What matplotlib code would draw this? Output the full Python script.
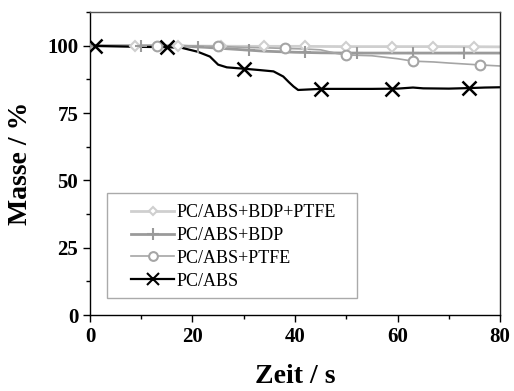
import numpy as np
import matplotlib.pyplot as plt
from matplotlib.ticker import MultipleLocator
from matplotlib.patches import Rectangle

plt.rcParams['font.family'] = ['Liberation Serif', 'DejaVu Serif']

# PC/ABS+BDP+PTFE (diamond)
t_bdp_ptfe = [0, 10, 20, 30, 40, 50, 60, 70, 80]
m_bdp_ptfe = [100, 100, 99.9, 99.8, 99.8, 99.7, 99.7, 99.7, 99.6]
mk_bdp_ptfe = [8.8, 17.2, 25.5, 34, 42, 50, 59, 67, 75]

# PC/ABS+BDP (plus)
t_bdp = [0, 10, 18, 22, 26, 30, 34, 40, 45, 50, 60, 70, 80]
m_bdp = [100, 100, 99.9, 99.5, 99.0, 98.5, 98.0, 97.6, 97.4, 97.3, 97.3, 97.3, 97.3]
mk_bdp = [0, 10, 21, 31, 42, 52, 63, 73]

# PC/ABS+PTFE (circle)
t_ptfe = [0, 10, 20, 25, 30, 35, 38, 42, 45, 48, 50, 55, 60, 63, 67, 70, 76, 80]
m_ptfe = [100, 100, 99.9, 99.8, 99.4, 99.2, 99.0, 98.8, 98.5, 97.2, 96.6, 96.3, 95.2, 94.3, 94.0, 93.6, 92.9, 92.5]
mk_ptfe = [13, 25, 38, 50, 63, 76]

# PC/ABS (x)
t_abs = [0, 5, 10, 15, 18, 19.5, 21, 23.4, 25, 26.7, 28, 30.6, 33, 35.8, 37.7, 38.8, 39.7, 40.6,
         45, 50, 55, 60, 63, 65, 70, 74, 77, 80]
m_abs = [100, 99.8, 99.6, 99.5, 99.2, 98.5, 97.8, 96.0, 93.0, 92.0, 91.8, 91.4, 91.0, 90.5, 88.6,
         86.5, 84.9, 83.6, 84.0, 84.0, 84.0, 84.1, 84.5, 84.2, 84.1, 84.3, 84.5, 84.6]
mk_abs = [1, 15, 30, 45, 59, 74]

fig = plt.figure(figsize=(5.14, 3.91), dpi=100)
ax = fig.add_axes([0.175, 0.194, 0.798, 0.775])

series = [
    (t_bdp_ptfe, m_bdp_ptfe, mk_bdp_ptfe, 'PC/ABS+BDP+PTFE', '#cfcfcf', 'D', 5, 2.0),
    (t_bdp, m_bdp, mk_bdp, 'PC/ABS+BDP', '#9a9a9a', '+', 9, 2.0),
    (t_ptfe, m_ptfe, mk_ptfe, 'PC/ABS+PTFE', '#a5a5a5', 'o', 7, 1.2),
    (t_abs, m_abs, mk_abs, 'PC/ABS', '#000000', 'x', 10, 1.6),
]

for t, m, mk, label, color, marker, ms, lw in series:
    ax.plot(t, m, color=color, lw=lw, zorder=2)
    my = np.interp(mk, t, m)
    ax.plot(mk, my, linestyle='none', marker=marker, ms=ms, mfc='white' if marker in 'Do' else color,
            mec=color, mew=1.8 if marker == 'x' else 1.5, zorder=3)
    ax.plot([], [], color=color, lw=lw, marker=marker, ms=ms * 0.9,
            mfc='white' if marker in 'Do' else color, mec=color, mew=1.5, label=label)

ax.set_xlim(0, 80)
ax.set_ylim(0, 112.5)
ax.xaxis.set_major_locator(MultipleLocator(20))
ax.xaxis.set_minor_locator(MultipleLocator(10))
ax.yaxis.set_major_locator(MultipleLocator(25))
ax.yaxis.set_minor_locator(MultipleLocator(12.5))
ax.tick_params(which='both', direction='out', top=False, right=False)
ax.tick_params(which='major', length=5, width=1, labelsize=15)
ax.tick_params(which='minor', length=3, width=1)
for lab in ax.get_xticklabels() + ax.get_yticklabels():
    lab.set_fontweight('bold')
for s in ax.spines.values():
    s.set_linewidth(1.0)
ax.spines['top'].set_color('#555555')
ax.spines['right'].set_color('#222222')

ax.set_xlabel('Zeit / s', fontsize=20, fontweight='bold', labelpad=12)
ax.set_ylabel('Masse / %', fontsize=20, fontweight='bold', labelpad=10)

# legend frame drawn separately so the padding matches the original
ax.add_patch(Rectangle((0.0415, 0.056), 0.61, 0.347, transform=ax.transAxes,
                       facecolor='white', edgecolor='#aaaaaa', lw=1.0, zorder=4))
leg = ax.legend(loc='upper left', bbox_to_anchor=(0.100, 0.366), fontsize=13, frameon=False,
                handlelength=2.4, handletextpad=0.15, labelspacing=0.32,
                borderpad=0, borderaxespad=0)
leg.set_zorder(5)

fig.savefig('out.png', dpi=100)
